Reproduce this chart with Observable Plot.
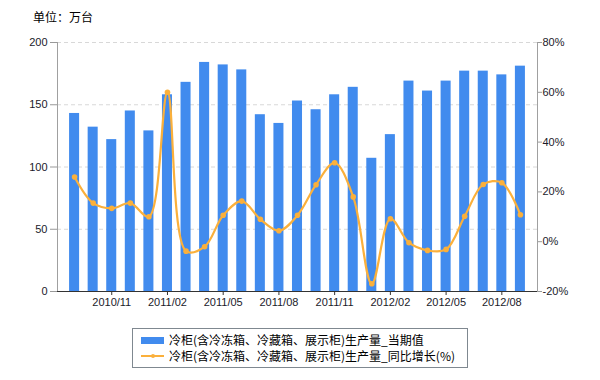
<!DOCTYPE html>
<html><head><meta charset="utf-8">
<script src="https://cdn.jsdelivr.net/npm/d3@7"></script>
<script src="https://cdn.jsdelivr.net/npm/@observablehq/plot@0.6"></script>
<style>
body{margin:0;background:#fff;font-family:"Noto Sans CJK SC",sans-serif;}
#wrap{position:relative;width:600px;height:380px;overflow:hidden;}
#unit{position:absolute;left:33px;top:8px;font-size:12px;color:#000;}
#chart{position:absolute;left:0;top:30px;}
#legend{position:absolute;left:132px;top:328px;width:334px;height:38px;border:1px solid #7f8890;font-size:12px;color:#000;}
.row{position:absolute;left:8px;height:16px;line-height:16px;white-space:nowrap;}
.sw{display:inline-block;position:absolute;left:0;}
.txt{position:absolute;left:28px;top:0;}
</style>
</head><body>
<div id="wrap">
  <div id="unit">单位：万台</div>
  <div id="chart"></div>
  <div id="legend">
    <div class="row" style="top:3px"><span class="sw" style="top:5px;width:23px;height:7px;background:#418bee"></span><span class="txt" id="l1"></span></div>
    <div class="row" style="top:19px"><span class="sw" style="top:7px;width:23px;height:2px;background:#fbb03b"></span><span class="sw" style="left:10px;top:6px;width:4px;height:4px;border-radius:2px;background:#fbb03b"></span><span class="txt" id="l2"></span></div>
  </div>
</div>
<script>
const months = ["2010/09","2010/10","2010/11","2010/12","2011/01","2011/02","2011/03","2011/04","2011/05","2011/06","2011/07","2011/08","2011/09","2011/10","2011/11","2011/12","2012/01","2012/02","2012/03","2012/04","2012/05","2012/06","2012/07","2012/08","2012/09"];
const output = [143,132,122,145,129,158,168,184,182,178,142,135,153,146,158,164,107,126,169,161,169,177,177,174,181];
const growth = [26,15.5,13.4,15.5,10,60,-3.8,-2,10.6,16.3,9,4.4,10.6,22.9,31.7,18,-16.9,9.2,-0.4,-3.5,-3.1,10.2,23,23.7,10.8];
const xTicks = ["2010/11","2011/02","2011/05","2011/08","2011/11","2012/02","2012/05","2012/08"];
const leftTicks = [0,50,100,150,200];
const rightTicks = [-20,0,20,40,60,80];
const seriesNames = ["冷柜(含冷冻箱、冷藏箱、展示柜)生产量_当期值","冷柜(含冷冻箱、冷藏箱、展示柜)生产量_同比增长(%)"];

document.getElementById("l1").textContent = seriesNames[0];
document.getElementById("l2").textContent = seriesNames[1];

// map percent onto the left (0..200) scale: -20% -> 0, 80% -> 200
const toLeft = p => (p + 20) * 2;
const fromLeft = v => v / 2 - 20;

const data = months.map((m, i) => ({month: m, value: output[i], g: toLeft(growth[i])}));

const chart = Plot.plot({
  width: 600,
  height: 290,
  marginTop: 12,
  marginBottom: 29,
  marginLeft: 57,
  marginRight: 63,
  style: {fontFamily: "'Liberation Sans', Arial, sans-serif", fontSize: "11px", color: "#1a1a2a", background: "transparent"},
  x: {type: "band", domain: months, paddingInner: 0.46, paddingOuter: 0.65, round: false},
  y: {domain: [0, 200]},
  marks: [
    Plot.gridY(leftTicks.filter(d => d > 0), {stroke: "#d8d8d8", strokeOpacity: 1, strokeDasharray: "4,3"}),
    Plot.barY(data, {x: "month", y: "value", fill: "#418bee"}),
    Plot.frame({anchor: "left", stroke: "#a0a0a0"}),
    Plot.frame({anchor: "right", stroke: "#a0a0a0"}),
    Plot.ruleY([0], {stroke: "#333"}),
    Plot.lineY(data, {x: "month", y: "g", stroke: "#fbb03b", strokeWidth: 2.2, curve: "catmull-rom"}),
    Plot.dot(data, {x: "month", y: "g", fill: "#fbb03b", r: 2.8}),
    Plot.axisY({ticks: leftTicks, tickSize: 7, tickPadding: 3, label: null, stroke: "#999"}),
    Plot.axisY({anchor: "right", ticks: rightTicks.map(toLeft), tickFormat: d => fromLeft(d) + "%", tickSize: 4, tickPadding: 1, label: null, stroke: "#999"}),
    Plot.axisX({ticks: xTicks, tickSize: 4, tickPadding: 3, label: null, stroke: "#333"})
  ]
});
document.getElementById("chart").appendChild(chart);
</script>
</body></html>
